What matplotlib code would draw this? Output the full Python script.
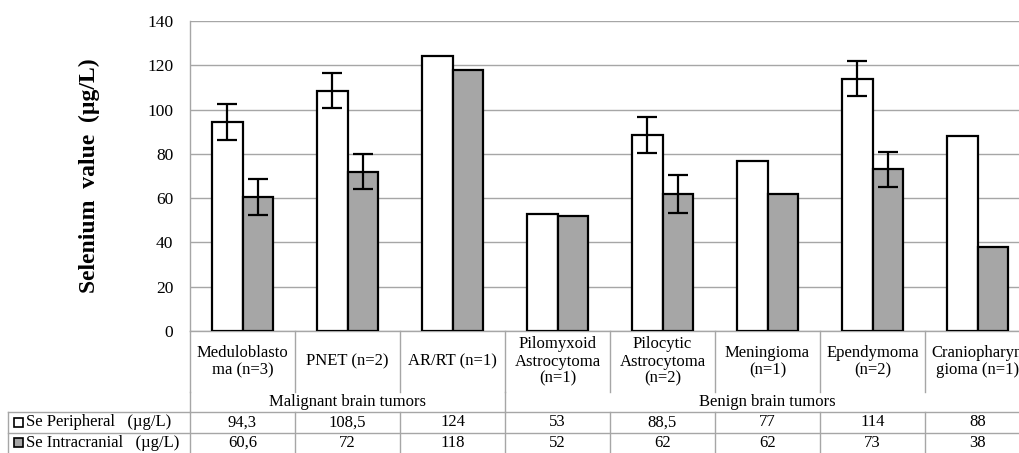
import matplotlib
matplotlib.use("Agg")
import matplotlib.pyplot as plt
import numpy as np
from matplotlib.patches import Rectangle

plt.rcParams['font.family'] = ['Liberation Serif', 'DejaVu Serif']

# data
categories = ["Meduloblasto\nma (n=3)", "PNET (n=2)", "AR/RT (n=1)",
              "Pilomyxoid\nAstrocytoma\n(n=1)", "Pilocytic\nAstrocytoma\n(n=2)",
              "Meningioma\n(n=1)", "Ependymoma\n(n=2)", "Craniopharyn\ngioma (n=1)"]
groups = ["Malignant brain tumors", "Benign brain tumors"]
group_sizes = [3, 5]
peripheral = [94.3, 108.5, 124, 53, 88.5, 77, 114, 88]
intracranial = [60.6, 72, 118, 52, 62, 62, 73, 38]
peripheral_err = [8, 8, None, None, 8, None, 8, None]
intracranial_err = [8, 8, None, None, 8.5, None, 8, None]
series_names = ["Se Peripheral   (\u00b5g/L)", "Se Intracranial   (\u00b5g/L)"]

W, H = 1019, 453
fig = plt.figure(figsize=(W / 100, H / 100), dpi=100)
# axes right edge goes past the figure, like the cropped original
ax = fig.add_axes([190 / W, (H - 331) / H, 840 / W, 310 / H])

x = np.arange(len(categories))
bw = 0.286
grid_c = '#a6a6a6'
fs = 12

ax.bar(x - bw / 2, peripheral, bw, color='white', edgecolor='black', linewidth=1.6, zorder=3)
ax.bar(x + bw / 2, intracranial, bw, color='#a6a6a6', edgecolor='black', linewidth=1.6, zorder=3)

for off, vals, errs in [(-bw / 2, peripheral, peripheral_err), (bw / 2, intracranial, intracranial_err)]:
    idx = [i for i, e in enumerate(errs) if e is not None]
    ax.errorbar(x[idx] + off, [vals[i] for i in idx], yerr=[errs[i] for i in idx],
                fmt='none', ecolor='black', elinewidth=1.6, capsize=7, capthick=1.6, zorder=4)

ax.set_xlim(-0.5, len(categories) - 0.5)
ax.set_ylim(0, 140)
ax.set_yticks(range(0, 141, 20))
ax.yaxis.grid(True, color=grid_c, linewidth=1)
ax.set_axisbelow(True)
ax.tick_params(axis='y', length=0, pad=12, labelsize=12.5)
ax.set_xticks([])
for s in ['top', 'right']:
    ax.spines[s].set_visible(False)
for s in ['left', 'bottom']:
    ax.spines[s].set_color(grid_c)
    ax.spines[s].set_linewidth(1)

ax.set_ylabel("Selenium  value  (\u00b5g/L)", fontsize=17, fontweight='bold', labelpad=34)

# data table under the plot (axes fraction in y, data units in x)
trans = ax.get_xaxis_transform()
def yf(py):
    return (331 - py) / 310

y_cat = yf(392)
y_grp = yf(412)
y_row = yf(433)
y_bot = yf(456)
x_tab = -0.5 - 182 / 105  # left edge of table at ~8px

def line(xs, ys):
    ax.plot(xs, ys, color=grid_c, linewidth=1, transform=trans, clip_on=False, zorder=1)

bounds = np.arange(len(categories) + 1) - 0.5
group_bounds = np.cumsum([0] + group_sizes) - 0.5
for b in bounds:
    line([b, b], [0, y_cat])
    line([b, b], [y_grp, y_bot])
for b in group_bounds:
    line([b, b], [y_cat, y_grp])
line([x_tab, bounds[-1]], [y_grp, y_grp])
line([x_tab, bounds[-1]], [y_row, y_row])
line([x_tab, bounds[-1]], [y_bot, y_bot])
line([x_tab, x_tab], [y_grp, y_bot])

for i, c in enumerate(categories):
    ax.text(i, (0 + y_cat) / 2, c, transform=trans, ha='center', va='center',
            fontsize=fs, linespacing=1.1)

for g, lo, hi in zip(groups, group_bounds[:-1], group_bounds[1:]):
    ax.text((lo + hi) / 2, (y_cat + y_grp) / 2, g, transform=trans, ha='center',
            va='center', fontsize=fs)

def fmt(v):
    return f"{v:g}".replace('.', ',')

rows = [(peripheral, 'white'), (intracranial, '#a6a6a6')]
row_ys = [(y_grp + y_row) / 2, (y_row + y_bot) / 2 + 0.005]
for (vals, col), ry, name in zip(rows, row_ys, series_names):
    for i, v in enumerate(vals):
        ax.text(i, ry, fmt(v), transform=trans, ha='center', va='center', fontsize=fs)
    kx = x_tab + 6 / 105
    ax.add_patch(Rectangle((kx, ry - 4.5 / 310), 9 / 105, 9 / 310, transform=trans,
                           facecolor=col, edgecolor='black', linewidth=1.2, clip_on=False))
    ax.text(kx + 12 / 105, ry, name, transform=trans, ha='left', va='center', fontsize=fs)

fig.savefig("out.png", dpi=100)
